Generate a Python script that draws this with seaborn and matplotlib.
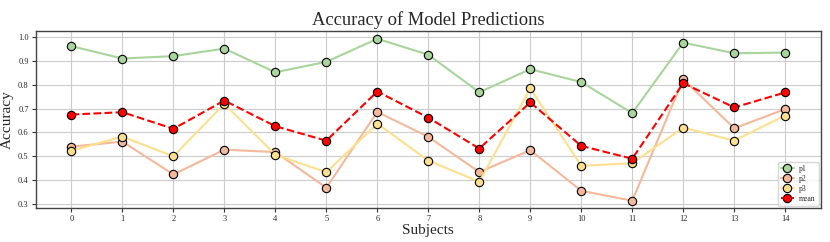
import numpy as np
import pandas as pd
import matplotlib
matplotlib.use("Agg")
import matplotlib.pyplot as plt
import seaborn as sns

subjects = list(range(15))
p1 = [0.963, 0.911, 0.921, 0.953, 0.853, 0.897, 0.994, 0.927, 0.769, 0.866, 0.812, 0.681, 0.978, 0.933, 0.936]
p2 = [0.540, 0.561, 0.423, 0.527, 0.517, 0.367, 0.686, 0.581, 0.433, 0.525, 0.354, 0.312, 0.824, 0.617, 0.698]
p3 = [0.523, 0.582, 0.499, 0.720, 0.506, 0.432, 0.637, 0.481, 0.392, 0.785, 0.459, 0.470, 0.620, 0.565, 0.671]
mean = [0.675, 0.685, 0.615, 0.734, 0.626, 0.565, 0.772, 0.662, 0.532, 0.726, 0.543, 0.489, 0.807, 0.705, 0.768]

series_names = ["p1", "p2", "p3"]
series_colors = ["#a8d59b", "#f4b89b", "#fde08d"]

sns.set_theme(style="whitegrid")
plt.rcParams["font.family"] = ["Liberation Serif", "DejaVu Serif"]

fig, ax = plt.subplots(figsize=(8.3, 2.42), dpi=100)

df = pd.DataFrame({"Subject": subjects, "p1": p1, "p2": p2, "p3": p3, "mean": mean})
for name, col in zip(series_names, series_colors):
    sns.lineplot(data=df, x="Subject", y=name, ax=ax, color=col, linewidth=1.5,
                 marker="o", markersize=6, markeredgecolor="black", markeredgewidth=0.8,
                 markerfacecolor=col, label=name)
sns.lineplot(data=df, x="Subject", y="mean", ax=ax, color="red", linewidth=1.5,
             linestyle="--", marker="o", markersize=6, markeredgecolor="black",
             markeredgewidth=0.8, markerfacecolor="red", label="mean")

ax.set_xlim(-0.7, 14.7)
ax.set_ylim(0.281, 1.027)
ax.set_xticks(subjects)
ax.set_yticks([0.3, 0.4, 0.5, 0.6, 0.7, 0.8, 0.9, 1.0])
ax.set_yticklabels(["0.3", "0.4", "0.5", "0.6", "0.7", "0.8", "0.9", "1.0"])
ax.tick_params(axis="both", labelsize=6, length=3, width=0.8, color="#333333", direction="out",
               left=True, bottom=True, pad=2)
for s in ax.spines.values():
    s.set_color("#444444")
    s.set_linewidth(1.0)
ax.grid(True, color="#cccccc", linewidth=0.8)

ax.set_title("Accuracy of Model Predictions", fontsize=13.3, pad=4)
ax.set_xlabel("Subjects", fontsize=11, labelpad=1)
ax.set_ylabel("Accuracy", fontsize=11, labelpad=3)

leg = ax.legend(loc="lower right", fontsize=5.5, frameon=True, handlelength=1.8,
                borderpad=0.4, labelspacing=0.25, handletextpad=0.6, borderaxespad=0.3)

fig.subplots_adjust(left=0.043, right=0.989, top=0.872, bottom=0.14)
fig.savefig("out.png", dpi=100)
